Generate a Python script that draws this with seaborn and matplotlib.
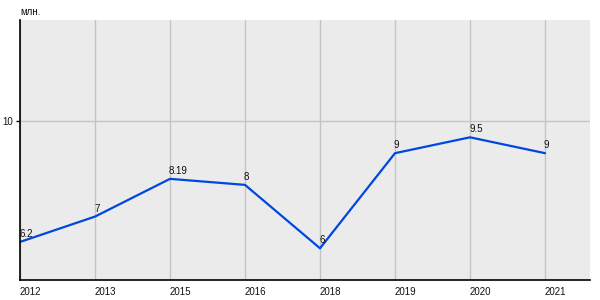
import matplotlib
matplotlib.use("Agg")
import matplotlib.pyplot as plt
import seaborn as sns
import numpy as np
import pandas as pd

years = ["2012", "2013", "2015", "2016", "2018", "2019", "2020", "2021"]
values = [6.2, 7, 8.19, 8, 6, 9, 9.5, 9]
labels = ["6.2", "7", "8.19", "8", "6", "9", "9.5", "9"]
unit = "млн."

sns.set_style("white")
plt.rcParams['font.family'] = ['Liberation Sans', 'DejaVu Sans']

fig = plt.figure(figsize=(6, 3), dpi=100)
ax = fig.add_axes([20/600, 20/300, 570/600, 260/300])
ax.set_facecolor("#EBEBEB")

df = pd.DataFrame({"pos": np.arange(len(years)), "val": values})
sns.lineplot(data=df, x="pos", y="val", ax=ax, color="#0047E0", linewidth=1.6, sort=False)

for p, v, t in zip(df["pos"], values, labels):
    ax.annotate(t, (p, v), xytext=(-1, 3), textcoords="offset pixels",
                ha="left", va="bottom", fontsize=7, color="#111111")

ax.set_xlim(0, 7.6)
ax.set_ylim(5, 13.2)
ax.set_xticks(np.arange(len(years)))
ax.set_xticklabels(years, ha="left", fontsize=7, color="#111111")
ax.set_yticks([10])
ax.set_yticklabels(["10"], fontsize=7, color="#111111")
ax.grid(True, color="#C4C4C4", linewidth=1)
ax.set_axisbelow(True)
ax.tick_params(axis="x", length=0, pad=5)
ax.tick_params(axis="y", length=3, width=1, color="black", pad=2, left=True)
for s in ["top", "right"]:
    ax.spines[s].set_visible(False)
for s in ["left", "bottom"]:
    ax.spines[s].set_visible(True)
    ax.spines[s].set_color("black")
    ax.spines[s].set_linewidth(1.2)
ax.set_xlabel("")
ax.set_ylabel("")
fig.text(20/600, 1 - 12/300, unit, fontsize=7, ha="left", va="center", color="#111111")

fig.savefig("out.png", dpi=100, facecolor="white")
